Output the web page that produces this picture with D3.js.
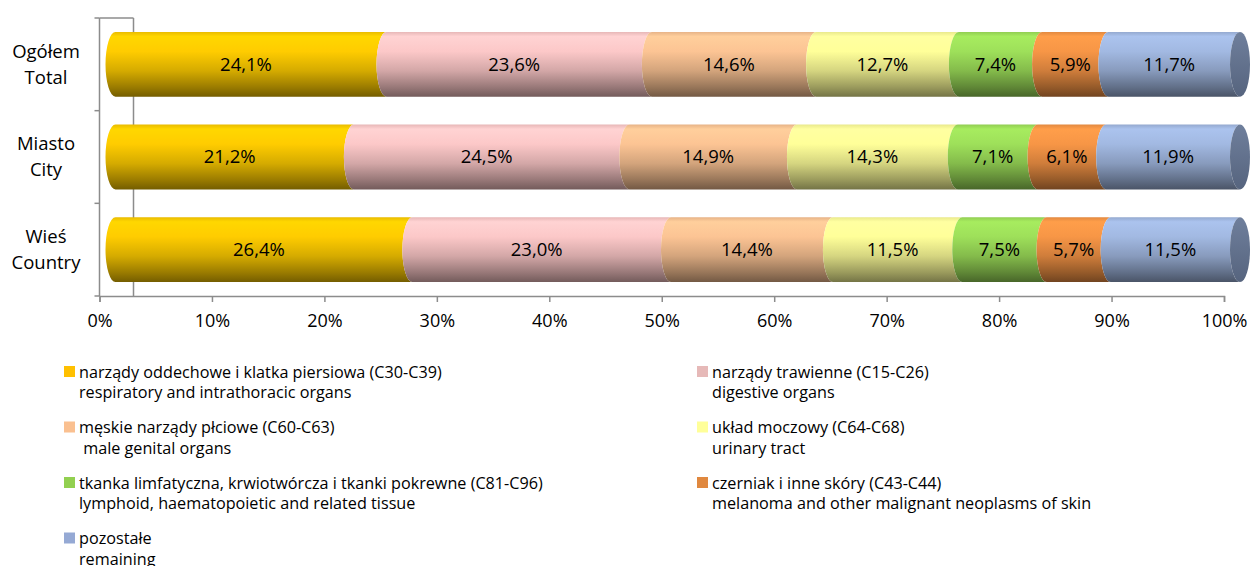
<!DOCTYPE html>
<html lang="pl">
<head>
    <meta charset="UTF-8">
    <title>Nowotwory - struktura</title>
    <script src="https://cdnjs.cloudflare.com/ajax/libs/d3/7.8.5/d3.min.js"></script>
    <style>
        body { margin: 0; padding: 0; background: #fff; }
        svg text { font-family: "Open Sans", Lato, sans-serif; fill: #000; }
    </style>
</head>
<body>
<svg id="chart" width="1251" height="566"></svg>
<script>
    // categories (two-line labels)
    const categories = ['Ogółem|Total', 'Miasto|City', 'Wieś|Country'];

    // series, in stacking order
    const seriesNames = [
        ['narządy oddechowe i klatka piersiowa (C30-C39)', 'respiratory and intrathoracic organs'],
        ['narządy trawienne (C15-C26)', 'digestive organs'],
        ['męskie narządy płciowe (C60-C63)', ' male genital organs'],
        ['układ moczowy (C64-C68)', 'urinary tract'],
        ['tkanka limfatyczna, krwiotwórcza i tkanki pokrewne (C81-C96)', 'lymphoid, haematopoietic and related tissue'],
        ['czerniak i inne skóry (C43-C44)', 'melanoma and other malignant neoplasms of skin'],
        ['pozostałe', 'remaining']
    ];

    const respiratory = [24.1, 21.2, 26.4];
    const digestive   = [23.6, 24.5, 23.0];
    const genital     = [14.6, 14.9, 14.4];
    const urinary     = [12.7, 14.3, 11.5];
    const lymphoid    = [7.4, 7.1, 7.5];
    const melanoma    = [5.9, 6.1, 5.7];
    const remaining   = [11.7, 11.9, 11.5];

    const seriesValues = [respiratory, digestive, genital, urinary, lymphoid, melanoma, remaining];

    const barColors    = ['#ffcc00', '#fcc8c8', '#fcc494', '#ffff99', '#9ee05a', '#f79646', '#a2b9e2'];
    const legendColors = ['#ffc000', '#e6b9b8', '#fac090', '#ffff99', '#92d050', '#e0883f', '#95a9d4'];

    const xTicks = [0, 10, 20, 30, 40, 50, 60, 70, 80, 90, 100];

    const svg = d3.select('#chart');
    const defs = svg.append('defs');

    const x = d3.scaleLinear().domain([0, 100]).range([99.5, 1224]);
    const y = d3.scaleBand().domain(categories).range([18, 296]).paddingInner(0.3).paddingOuter(0.15);
    const depth = 16;     // bars sit halfway into the 3d floor
    const rx = 10;

    const bx = v => x(v) + depth;

    // cylinder shading per series
    barColors.forEach((c, i) => {
        const base = d3.color(c);
        const g = defs.append('linearGradient')
            .attr('id', 'cyl' + i)
            .attr('x1', 0).attr('y1', 0).attr('x2', 0).attr('y2', 1);
        const stops = [
            [0, base.darker(0.25)],
            [0.07, base.brighter(0.15)],
            [0.3, base],
            [0.6, base.darker(0.5)],
            [0.85, base.darker(1.4)],
            [1, base.darker(2.2)]
        ];
        stops.forEach(s => g.append('stop').attr('offset', s[0]).attr('stop-color', s[1]));
    });
    const capG = defs.append('linearGradient').attr('id', 'cap')
        .attr('x1', 0).attr('y1', 0).attr('x2', 0).attr('y2', 1);
    capG.append('stop').attr('offset', 0).attr('stop-color', '#6f7f9c');
    capG.append('stop').attr('offset', 1).attr('stop-color', '#56647e');

    // walls and axes
    const axisColor = '#8c8c8c';
    svg.append('line').attr('x1', x(0)).attr('x2', x(0)).attr('y1', 18).attr('y2', 296)
        .attr('stroke', axisColor).attr('stroke-width', 1.5);
    svg.append('line').attr('x1', x(0)).attr('x2', x(0) + 34).attr('y1', 18).attr('y2', 18)
        .attr('stroke', axisColor).attr('stroke-width', 1.5);
    svg.append('line').attr('x1', x(0) + 34).attr('x2', x(0) + 34).attr('y1', 18).attr('y2', 296)
        .attr('stroke', axisColor).attr('stroke-width', 1.5);
    const yTicks = [18].concat(categories.map((c, i) => 18 + (i + 1) * (278 / 3)));
    svg.append('g').selectAll('line').data(yTicks).join('line')
        .attr('x1', x(0) - 5).attr('x2', x(0)).attr('y1', d => d).attr('y2', d => d)
        .attr('stroke', axisColor).attr('stroke-width', 1.5);

    const xAxis = svg.append('g').attr('transform', 'translate(0,296)')
        .call(d3.axisBottom(x).tickValues(xTicks).tickSize(6).tickPadding(12).tickFormat(d => d + '%'));
    xAxis.select('.domain').attr('stroke', axisColor).attr('stroke-width', 1.5);
    xAxis.selectAll('.tick line').attr('stroke', axisColor).attr('stroke-width', 1.5);
    xAxis.selectAll('.tick text').attr('font-size', 18).attr('font-family', '"Open Sans", sans-serif').attr('fill', '#000');

    // category labels
    const catG = svg.append('g');
    categories.forEach(c => {
        const cy = y(c) + y.bandwidth() / 2;
        const parts = c.split('|');
        catG.append('text').attr('x', 46).attr('y', cy - 13).attr('dy', '0.35em')
            .attr('text-anchor', 'middle').attr('font-size', 18.5).text(parts[0]);
        catG.append('text').attr('x', 46).attr('y', cy + 13).attr('dy', '0.35em')
            .attr('text-anchor', 'middle').attr('font-size', 18.5).text(parts[1]);
    });

    // stacked cylinders
    const barsG = svg.append('g');
    categories.forEach((c, ci) => {
        const top = y(c), h = y.bandwidth(), bot = top + h, ry = h / 2;
        let acc = 0;
        seriesValues.forEach((vals, si) => {
            const v = vals[ci];
            const x0 = bx(acc), x1 = bx(acc + v);
            const p = `M${x0},${top} A${rx},${ry} 0 0 0 ${x0},${bot} L${x1},${bot} A${rx},${ry} 0 0 1 ${x1},${top} Z`;
            barsG.append('path').attr('d', p).attr('fill', `url(#cyl${si})`);
            barsG.append('text')
                .attr('x', (x0 + x1) / 2 - 5).attr('y', top + ry).attr('dy', '0.35em')
                .attr('text-anchor', 'middle').attr('font-size', 18.5)
                .text(v.toFixed(1).replace('.', ',') + '%');
            acc += v;
        });
        barsG.append('ellipse')
            .attr('cx', bx(acc)).attr('cy', top + ry).attr('rx', rx).attr('ry', ry)
            .attr('fill', 'url(#cap)');
    });

    // legend, two columns
    const legendG = svg.append('g');
    seriesNames.forEach((n, i) => {
        const col = i % 2, row = Math.floor(i / 2);
        const lx = col === 0 ? 64 : 697;
        const ly = 372 + row * 55.5;
        legendG.append('rect').attr('x', lx).attr('y', ly - 6).attr('width', 11).attr('height', 11)
            .attr('fill', legendColors[i]);
        legendG.append('text').attr('x', lx + 15).attr('y', ly).attr('dy', '0.35em')
            .attr('font-size', 16.2).attr('xml:space', 'preserve').text(n[0]);
        legendG.append('text').attr('x', lx + 15).attr('y', ly + 20.5).attr('dy', '0.35em')
            .attr('font-size', 16.2).attr('xml:space', 'preserve').text(n[1]);
    });
</script>
</body>
</html>
